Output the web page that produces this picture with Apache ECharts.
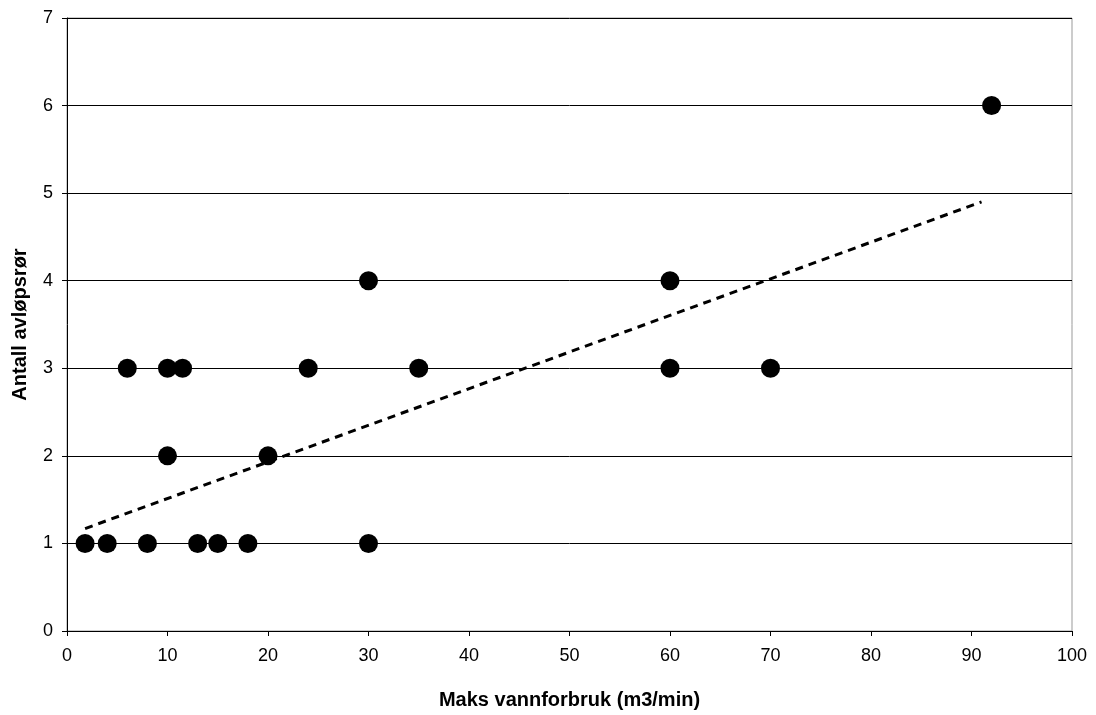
<!DOCTYPE html>
<html><head><meta charset="utf-8">
<script src="https://cdn.jsdelivr.net/npm/echarts@6/dist/echarts.min.js"></script>
<style>html,body{margin:0;padding:0;background:#fff}#c{width:1096px;height:715px}</style>
</head><body><div id="c"></div>
<script>
const xValues = [1.8, 4, 8, 13, 15, 18, 30, 10, 20, 6, 10, 11.5, 24, 35, 60, 70, 30, 60, 92];
const yValues = [1, 1, 1, 1, 1, 1, 1, 2, 2, 3, 3, 3, 3, 3, 3, 3, 4, 4, 6];
const trendX = [1.8, 91];
const trendY = [1.17, 4.9];
const xTitle = 'Maks vannforbruk (m3/min)';
const yTitle = 'Antall avløpsrør';

const pts = xValues.map((x, i) => [x, yValues[i]]);
const trend = trendX.map((x, i) => [x, trendY[i]]);
const font = 'Liberation Sans, Arial, sans-serif';
const chart = echarts.init(document.getElementById('c'));
chart.setOption({
  animation: false,
  backgroundColor: '#fff',
  grid: {left: 67, right: 24, top: 18, bottom: 76, show: true, borderColor: '#999', borderWidth: 1},
  xAxis: {
    type: 'value', min: 0, max: 100, interval: 10,
    name: xTitle, nameLocation: 'middle', nameGap: 59,
    nameTextStyle: {fontFamily: font, fontWeight: 'bold', fontSize: 20, color: '#000'},
    axisLine: {show: true, lineStyle: {color: '#000', width: 1}},
    axisTick: {show: true, length: 5, lineStyle: {color: '#000'}},
    axisLabel: {fontFamily: font, fontSize: 18, color: '#000', margin: 16},
    splitLine: {show: false}
  },
  yAxis: {
    type: 'value', min: 0, max: 7, interval: 1,
    name: yTitle, nameLocation: 'middle', nameGap: 37,
    nameTextStyle: {fontFamily: font, fontWeight: 'bold', fontSize: 20, color: '#000'},
    axisLine: {show: true, lineStyle: {color: '#000', width: 1}},
    axisTick: {show: true, length: 5, lineStyle: {color: '#000'}},
    axisLabel: {fontFamily: font, fontSize: 18, color: '#000', margin: 14},
    splitLine: {show: true, lineStyle: {color: '#000', width: 1}}
  },
  series: [
    {
      type: 'line', data: trend, symbol: 'none', silent: true,
      lineStyle: {color: '#000', width: 3, type: [8, 6]}, z: 2
    },
    {
      type: 'scatter', data: pts, symbol: 'circle', symbolSize: 19,
      itemStyle: {color: '#000', opacity: 1}, z: 3
    }
  ]
});
</script></body></html>
